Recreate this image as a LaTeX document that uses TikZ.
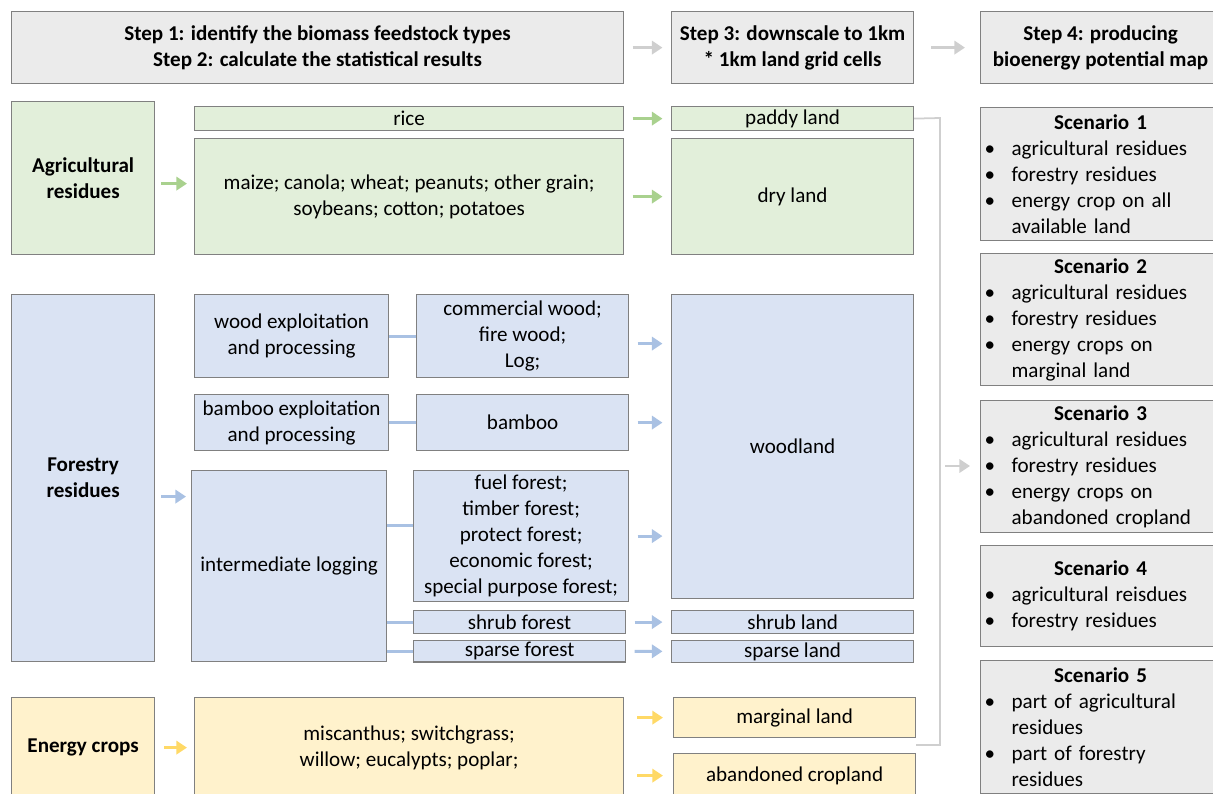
\documentclass[tikz,border=0pt]{standalone}
\usepackage{fontspec}
\setmainfont{Carlito}
\usetikzlibrary{positioning,arrows.meta,calc}
\definecolor{agrfill}{HTML}{E2EFDA}
\definecolor{forfill}{HTML}{DAE3F3}
\definecolor{enfill}{HTML}{FFF2CC}
\definecolor{greyfill}{HTML}{EBEBEB}
\definecolor{agrline}{HTML}{A9D18E}
\definecolor{forline}{HTML}{A9C1E3}
\definecolor{enline}{HTML}{FFD966}
\definecolor{greyline}{HTML}{CFCFCF}
\tikzset{
  box/.style={rectangle, draw=black!50, line width=0.7pt, anchor=north west, align=center, inner sep=1pt, font=\fontsize{12pt}{14.8pt}\selectfont},
  agr/.style={box, fill=agrfill},
  forr/.style={box, fill=forfill},
  ener/.style={box, fill=enfill},
  grey/.style={box, fill=greyfill},
  scen/.style={grey, text width=4.64cm, inner xsep=0.08cm, minimum width=4.8cm},
  connect/.style={-{Triangle[length=6pt,width=7.5pt]}, line width=1.7pt, shorten <=0.17cm, shorten >=0.17cm},
  link/.style={line width=1.7pt, draw=forline},
  bracket/.style={line width=1pt, draw=greyline}
}
\newcommand{\scenitem}[1]{\makebox[\linewidth][l]{\makebox[0.54cm][l]{\textbullet}#1}}
\newcommand{\scenmore}[1]{\makebox[\linewidth][l]{\hspace{0.54cm}#1}}

\begin{document}
\begin{tikzpicture}[x=0.02cm,y=-0.02cm]
  \useasboundingbox (0,0) rectangle (1213,794);

  % steps
  \node[grey, minimum width=12.24cm, minimum height=1.44cm] (step12) at (11,11) {\textbf{Step 1: identify the biomass feedstock types}\\ \textbf{Step 2: calculate the statistical results}};
  \node[grey, minimum width=4.84cm, minimum height=1.44cm] (step3) at (671,11) {\textbf{Step 3: downscale to 1km}\\ \textbf{* 1km land grid cells}};
  \node[grey, minimum width=4.8cm, minimum height=1.44cm] (step4) at (980,11) {\textbf{Step 4: producing}\\ \textbf{bioenergy potential map}};
  \draw[connect, greyline] (step12) -- (step3);
  \draw[connect, greyline, shorten <=0.34cm, shorten >=0.3cm] (step3) -- (step4);

  % agricultural residues
  \node[agr, minimum width=2.86cm, minimum height=3.06cm] (Agri) at (11,101) {\textbf{Agricultural}\\ \textbf{residues}};
  \node[agr, minimum width=8.58cm, minimum height=0.48cm] (rice) at (194,106) {rice};
  \node[agr, minimum width=8.58cm, minimum height=2.32cm] (grain) at (194,138) {maize; canola; wheat; peanuts; other grain;\\ soybeans; cotton; potatoes};
  \node[agr, minimum width=4.84cm, minimum height=0.48cm] (paddy) at (671,106) {paddy land};
  \node[agr, minimum width=4.84cm, minimum height=2.32cm] (dry) at (671,138) {dry land};
  \coordinate (ag) at ([yshift=-0.11cm]Agri.east);
  \draw[connect, agrline, shorten <=0.12cm, shorten >=0.14cm] (ag) -- (ag -| grain.west);
  \draw[connect, agrline] (rice) -- (paddy);
  \draw[connect, agrline] (grain) -- (dry);

  % forestry residues
  \node[forr, minimum width=2.86cm, minimum height=7.34cm] (Fores) at (11,294) {\textbf{Forestry}\\ \textbf{residues}};
  \node[forr, minimum width=3.88cm, minimum height=1.66cm] (woodexp) at (194,294) {wood exploitation\\ and processing};
  \node[forr, minimum width=4.24cm, minimum height=1.66cm] (wood) at (416,294) {commercial wood;\\ fire wood;\\ Log;};
  \node[forr, minimum width=3.88cm, minimum height=1.12cm] (bamexp) at (194,394) {bamboo exploitation\\ and processing};
  \node[forr, minimum width=4.24cm, minimum height=1.12cm] (bamboo) at (416,394) {bamboo};
  \node[forr, minimum width=3.9cm, minimum height=3.82cm] (logging) at (191,470) {intermediate logging};
  \node[forr, minimum width=4.3cm, minimum height=2.62cm] (forest) at (413,470) {fuel forest;\\ timber forest;\\ protect forest;\\ economic forest;\\ special purpose forest;};
  \node[forr, minimum width=4.24cm, minimum height=0.46cm] (shrubf) at (413,610) {shrub forest};
  \node[forr, minimum width=4.24cm, minimum height=0.42cm] (sparsef) at (413,640) {sparse forest};
  \node[forr, minimum width=4.84cm, minimum height=6.08cm] (woodland) at (671,294) {woodland};
  \node[forr, minimum width=4.84cm, minimum height=0.46cm] (shrubl) at (671,610) {shrub land};
  \node[forr, minimum width=4.84cm, minimum height=0.42cm] (sparsel) at (671,640) {sparse land};
  \coordinate (fr) at ([yshift=-0.37cm]Fores.east);
  \coordinate (wd) at ([yshift=-0.15cm]wood.east);
  \coordinate (ff) at ([yshift=0.21cm]forest.west);
  \draw[connect, forline, shorten <=0.12cm, shorten >=0.1cm] (fr) -- (fr -| logging.west);
  \draw[link] (woodexp) -- (wood);
  \draw[link] (bamexp) -- (bamboo);
  \draw[link] (ff -| logging.east) -- (ff);
  \draw[link] (shrubf.west -| logging.east) -- (shrubf);
  \draw[link] (sparsef.west -| logging.east) -- (sparsef);
  \draw[connect, forline] (wd) -- (wd -| woodland.west);
  \draw[connect, forline] (bamboo.east) -- (bamboo.east -| woodland.west);
  \draw[connect, forline] (forest.east) -- (forest.east -| woodland.west);
  \draw[connect, forline] (shrubf) -- (shrubl);
  \draw[connect, forline] (sparsef) -- (sparsel);

  % energy crops
  \node[ener, minimum width=2.86cm, minimum height=2.0cm] (Energy) at (11,697) {\textbf{Energy crops}};
  \node[ener, minimum width=8.58cm, minimum height=2.0cm] (crops) at (194,697) {miscanthus; switchgrass;\\ willow; eucalypts; poplar;};
  \node[ener, minimum width=4.84cm, minimum height=0.8cm] (marginal) at (673,697) {marginal land};
  \node[ener, minimum width=4.84cm, minimum height=0.88cm] (abandoned) at (673,753) {abandoned cropland};
  \draw[connect, enline, shorten <=0.18cm, shorten >=0.14cm] (Energy) -- (crops);
  \draw[connect, enline, shorten <=0.26cm, shorten >=0.2cm] (marginal.west -| crops.east) -- (marginal);
  \draw[connect, enline, shorten <=0.26cm, shorten >=0.2cm] (abandoned.west -| crops.east) -- (abandoned);

  % scenarios
  \node[scen, minimum height=2.66cm] (scen1) at (980,107) {\textbf{Scenario 1}\\ \scenitem{agricultural residues}\\ \scenitem{forestry residues}\\ \scenitem{energy crop on all}\\ \scenmore{available land}};
  \node[scen, minimum height=2.64cm] (scen2) at (980,253) {\textbf{Scenario 2}\\ \scenitem{agricultural residues}\\ \scenitem{forestry residues}\\ \scenitem{energy crops on}\\ \scenmore{marginal land}};
  \node[scen, minimum height=2.64cm] (scen3) at (980,400) {\textbf{Scenario 3}\\ \scenitem{agricultural residues}\\ \scenitem{forestry residues}\\ \scenitem{energy crops on}\\ \scenmore{abandoned cropland}};
  \node[scen, minimum height=2.02cm] (scen4) at (980,545) {\textbf{Scenario 4}\\ \scenitem{agricultural reisdues}\\ \scenitem{forestry residues}};
  \node[scen, minimum height=2.66cm] (scen5) at (980,660) {\textbf{Scenario 5}\\ \scenitem{part of agricultural}\\ \scenmore{residues}\\ \scenitem{part of forestry}\\ \scenmore{residues}};

  % bracket to the scenarios
  \coordinate (brtop) at (940,118);
  \coordinate (brmid) at (940,466);
  \coordinate (brend) at (916,745);
  \draw[bracket] (paddy.east) -- (brtop) |- (brend);
  \draw[connect, greyline, shorten <=0.1cm, shorten >=0.2cm] (brmid) -- (brmid -| scen3.west);
\end{tikzpicture}
\end{document}
